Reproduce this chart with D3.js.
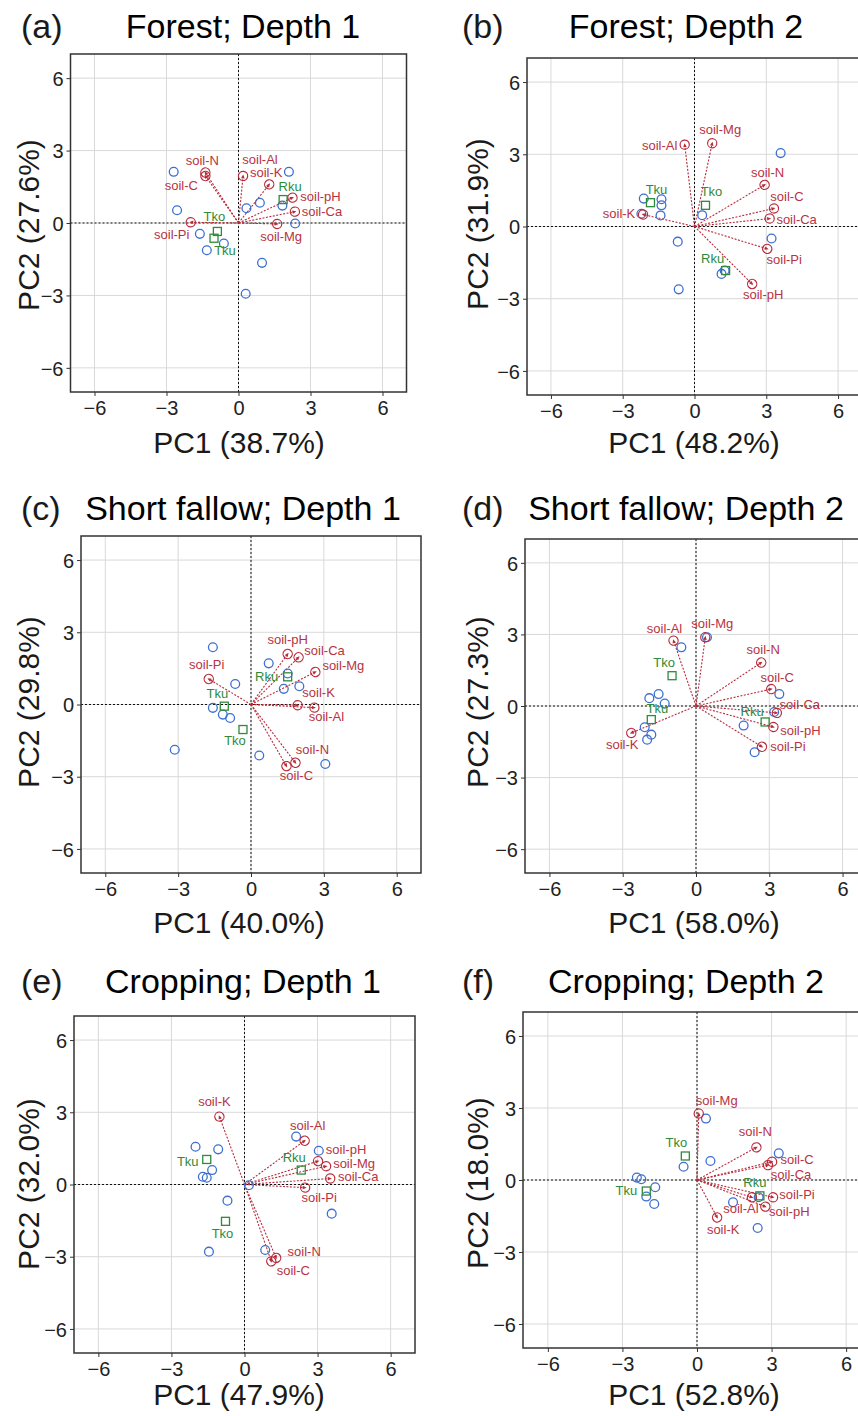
<!DOCTYPE html>
<html>
<head>
<meta charset="utf-8">
<script src="https://cdnjs.cloudflare.com/ajax/libs/d3/7.8.5/d3.min.js"></script>
<style>
  body { margin: 0; background: #fff; }
  svg { display: block; }
</style>
</head>
<body>
<div id="chart"></div>
<script>
// ---- data ----
const varNames = ['soil-N', 'soil-C', 'soil-Al', 'soil-K', 'soil-pH', 'soil-Ca', 'soil-Mg', 'soil-Pi'];
const groupNames = ['Tko', 'Tku', 'Rku'];
const tickValues = [-6, -3, 0, 3, 6];
const panelTags = ['(a)', '(b)', '(c)', '(d)', '(e)', '(f)'];
const panelTitles = ['Forest; Depth 1', 'Forest; Depth 2', 'Short fallow; Depth 1',
  'Short fallow; Depth 2', 'Cropping; Depth 1', 'Cropping; Depth 2'];
const pc1Share = ['38.7%', '48.2%', '40.0%', '58.0%', '47.9%', '52.8%'];
const pc2Share = ['27.6%', '31.9%', '29.8%', '27.3%', '32.0%', '18.0%'];

// sample scores (blue circles)
const samplesA = [[-2.70, 2.12], [2.10, 2.12], [-2.56, 0.53], [0.33, 0.61], [0.89, 0.84], [1.83, 0.72],
  [2.36, -0.02], [-1.61, -0.45], [-0.61, -0.85], [-1.32, -1.13], [0.98, -1.65], [0.30, -2.93]];
const samplesB = [[3.60, 3.05], [-2.12, 1.16], [-1.38, 1.13], [-1.38, 0.88], [-2.22, 0.53], [-1.42, 0.46],
  [0.32, 0.47], [3.22, -0.50], [-0.70, -0.63], [1.13, -1.97], [1.26, -1.83], [-0.66, -2.61]];
const samplesC = [[-1.57, 2.38], [0.73, 1.71], [-0.65, 0.85], [1.51, 1.29], [1.35, 0.65], [1.99, 0.76],
  [-1.57, -0.14], [-1.16, -0.42], [-0.86, -0.56], [-3.14, -1.88], [0.34, -2.12], [3.06, -2.47]];
const samplesD = [[0.45, 2.88], [-0.60, 2.46], [-1.91, 0.33], [-1.53, 0.50], [-1.28, 0.10], [-2.10, -0.89],
  [-1.83, -1.20], [-2.00, -1.41], [3.41, 0.50], [3.20, -0.25], [1.95, -0.82], [2.40, -1.94]];
const samplesE = [[-2.01, 1.57], [-1.08, 1.46], [-1.33, 0.60], [-1.71, 0.32], [-1.55, 0.28], [2.12, 1.99],
  [3.05, 1.40], [0.18, -0.03], [-0.70, -0.67], [3.58, -1.21], [0.85, -2.72], [-1.46, -2.79]];
const samplesF = [[0.36, 2.56], [0.54, 0.79], [-0.54, 0.55], [3.29, 1.11], [-2.42, 0.10], [-2.24, 0.03],
  [-1.68, -0.30], [-2.04, -0.69], [-1.72, -1.00], [1.45, -0.93], [2.48, -0.72], [2.44, -2.00]];

// group centroids (green squares), order of groupNames
const groupsA = [[-0.88, -0.35], [-1.02, -0.63], [1.86, 0.97]];
const groupsB = [[0.46, 0.88], [-1.84, 0.99], [1.30, -1.83]];
const groupsC = [[-0.33, -1.04], [-1.10, -0.07], [1.51, 1.15]];
const groupsD = [[-0.98, 1.27], [-1.83, -0.57], [2.83, -0.67]];
const groupsE = [[-0.78, -1.53], [-1.55, 1.04], [2.33, 0.60]];
const groupsF = [[-0.47, 1.00], [-2.04, -0.46], [2.53, -0.66]];

// variable loadings (red arrows), order of varNames
const loadingsA = [[-1.38, 2.09], [-1.38, 1.95], [0.19, 1.95], [1.28, 1.60], [2.25, 1.05], [2.35, 0.47], [1.61, -0.04], [-1.99, 0.03]];
const loadingsB = [[2.93, 1.73], [3.32, 0.75], [-0.41, 3.40], [-2.15, 0.50], [2.41, -2.39], [3.14, 0.33], [0.74, 3.46], [3.04, -0.93]];
const loadingsC = [[1.83, -2.42], [1.46, -2.56], [2.61, -0.13], [1.92, -0.03], [1.51, 2.10], [1.96, 1.96], [2.65, 1.35], [-1.74, 1.06]];
const loadingsD = [[2.67, 1.82], [3.08, 0.71], [-0.92, 2.74], [-2.65, -1.13], [3.17, -0.88], [3.31, -0.29], [0.38, 2.88], [2.70, -1.71]];
const loadingsE = [[1.30, -3.05], [1.10, -3.19], [2.47, 1.82], [-1.03, 2.82], [3.02, 0.97], [3.52, 0.25], [3.35, 0.76], [2.49, -0.13]];
const loadingsF = [[2.39, 1.36], [3.02, 0.76], [2.21, -0.72], [0.81, -1.56], [2.75, -1.11], [2.86, 0.62], [0.07, 2.77], [3.06, -0.72]];

const samples = [samplesA, samplesB, samplesC, samplesD, samplesE, samplesF];
const groups = [groupsA, groupsB, groupsC, groupsD, groupsE, groupsF];
const loadings = [loadingsA, loadingsB, loadingsC, loadingsD, loadingsE, loadingsF];

// ---- layout ----
const W = 858, H = 1416;
const boxes = [
  { left: 70.5, top: 54, w: 336, h: 338, tagX: 21, titleX: 243, titleY: 38, pc1X: 239, pc1Y: 453, pc2X: 28, pc2Y: 225 },
  { left: 527, top: 58, w: 335, h: 337, tagX: 462, titleX: 686, titleY: 38, pc1X: 694, pc1Y: 453, pc2X: 477, pc2Y: 224 },
  { left: 81, top: 536, w: 340, h: 337, tagX: 21, titleX: 243, titleY: 520, pc1X: 239, pc1Y: 933, pc2X: 28, pc2Y: 702 },
  { left: 525, top: 539, w: 342, h: 334, tagX: 462, titleX: 686, titleY: 520, pc1X: 694, pc1Y: 933, pc2X: 477, pc2Y: 702 },
  { left: 74, top: 1016, w: 341, h: 337, tagX: 21, titleX: 243, titleY: 993, pc1X: 239, pc1Y: 1405, pc2X: 28, pc2Y: 1184 },
  { left: 523, top: 1012, w: 348, h: 336, tagX: 462, titleX: 686, titleY: 993, pc1X: 694, pc1Y: 1405, pc2X: 477, pc2Y: 1183 }
];

// label nudges in pixels [dx, dy] (text centre, baseline) relative to the mark
const varNudge = [
  [[-3, -8], [-24, 14], [17, -12], [-3, -7], [28, 3], [27, 4], [4, 17], [-19, 17]],
  [[3, -8], [13, -7], [-25, 5], [-24, 4], [11, 15], [27, 5], [8, -9], [17, 15]],
  [[17, -9], [10, 14], [12, 13], [21, -8], [0, -10], [26, -2], [28, -2], [-2, -10]],
  [[2, -9], [6, -7], [-9, -8], [-9, 16], [27, 8], [23, -4], [7, -9], [26, 4]],
  [[28, -2], [22, 14], [3, -11], [-5, -11], [28, -7], [28, 3], [28, 2], [14, 14]],
  [[-1, -11], [25, 2], [-11, 16], [6, 17], [24, 9], [23, 14], [18, -9], [24, 2]]
];
const groupNudge = [
  [[-3, -10], [11, 17], [7, -9]],
  [[6, -9], [6, -9], [-13, -8]],
  [[-8, 15], [-7, -8], [-21, 4]],
  [[-8, -9], [6, -7], [-13, -6]],
  [[-3, 17], [-19, 7], [-7, -8]],
  [[-9, -9], [-20, 4], [-5, -9]]
];

const blue = '#3d6fd0', green = '#2e8b3a', red = '#b82a3a', redText = '#b8323f';
const font = "'Liberation Sans', Arial, sans-serif";

const svg = d3.select('#chart').append('svg')
  .attr('width', W)
  .attr('height', H)
  .style('font-family', font);

boxes.forEach((b, p) => {
  const x = d3.scaleLinear().domain([-7, 7]).range([b.left, b.left + b.w]);
  const y = d3.scaleLinear().domain([-7, 7]).range([b.top + b.h, b.top]);
  const g = svg.append('g');

  // titles
  g.append('text').text(panelTags[p])
    .attr('x', b.tagX).attr('y', b.titleY)
    .attr('font-size', 34).attr('fill', '#1a1a1a');
  g.append('text').text(panelTitles[p])
    .attr('x', b.titleX).attr('y', b.titleY)
    .attr('text-anchor', 'middle')
    .attr('font-size', 34).attr('fill', '#000');

  // grid
  g.selectAll('.gx').data(tickValues).enter().append('line')
    .attr('x1', d => x(d)).attr('x2', d => x(d))
    .attr('y1', b.top).attr('y2', b.top + b.h)
    .attr('stroke', '#d9d9d9').attr('stroke-width', 1);
  g.selectAll('.gy').data(tickValues).enter().append('line')
    .attr('y1', d => y(d)).attr('y2', d => y(d))
    .attr('x1', b.left).attr('x2', b.left + b.w)
    .attr('stroke', '#d9d9d9').attr('stroke-width', 1);

  // axes (ticks + labels)
  const xAxis = d3.axisBottom(x).tickValues(tickValues).tickSize(4).tickPadding(4);
  const yAxis = d3.axisLeft(y).tickValues(tickValues).tickSize(4).tickPadding(3);
  const gx = g.append('g').attr('transform', `translate(0,${b.top + b.h})`).call(xAxis);
  const gy = g.append('g').attr('transform', `translate(${b.left},0)`).call(yAxis);
  [gx, gy].forEach(a => {
    a.select('.domain').remove();
    a.selectAll('line').attr('stroke', '#333');
    a.selectAll('text').attr('font-size', 20).attr('font-family', font).attr('fill', '#222');
  });
  gx.selectAll('text').attr('dy', '0.75em');
  gy.selectAll('text').attr('dy', '0.36em');

  // zero lines
  g.append('line')
    .attr('x1', x(0)).attr('x2', x(0)).attr('y1', b.top).attr('y2', b.top + b.h)
    .attr('stroke', '#111').attr('stroke-dasharray', '2,2').attr('stroke-width', 1);
  g.append('line')
    .attr('y1', y(0)).attr('y2', y(0)).attr('x1', b.left).attr('x2', b.left + b.w)
    .attr('stroke', '#111').attr('stroke-dasharray', '2,2').attr('stroke-width', 1);

  // loading lines
  g.selectAll('.ld').data(loadings[p]).enter().append('line')
    .attr('x1', x(0)).attr('y1', y(0))
    .attr('x2', d => x(d[0])).attr('y2', d => y(d[1]))
    .attr('stroke', red).attr('stroke-width', 1.1).attr('stroke-dasharray', '2,1.5');

  // samples
  g.selectAll('.sm').data(samples[p]).enter().append('circle')
    .attr('cx', d => x(d[0])).attr('cy', d => y(d[1])).attr('r', 4.4)
    .attr('fill', 'none').attr('stroke', blue).attr('stroke-width', 1.3);

  // group centroids
  g.selectAll('.gr').data(groups[p]).enter().append('rect')
    .attr('x', d => x(d[0]) - 4).attr('y', d => y(d[1]) - 4)
    .attr('width', 8).attr('height', 8)
    .attr('fill', 'none').attr('stroke', green).attr('stroke-width', 1.3);

  // loading end markers: circle + arrow head
  const ends = g.selectAll('.le').data(loadings[p]).enter().append('g')
    .attr('transform', d => {
      const ang = Math.atan2(y(d[1]) - y(0), x(d[0]) - x(0)) * 180 / Math.PI;
      return `translate(${x(d[0])},${y(d[1])}) rotate(${ang})`;
    });
  ends.append('circle').attr('r', 4.6)
    .attr('fill', 'none').attr('stroke', red).attr('stroke-width', 1.2);
  ends.append('path').attr('d', 'M1.5,0 L-2.5,-1.8 L-2.5,1.8 Z').attr('fill', red);

  // labels
  g.selectAll('.vl').data(loadings[p]).enter().append('text')
    .text((d, i) => varNames[i])
    .attr('x', (d, i) => x(d[0]) + varNudge[p][i][0])
    .attr('y', (d, i) => y(d[1]) + varNudge[p][i][1])
    .attr('text-anchor', 'middle').attr('font-size', 13).attr('fill', redText);
  g.selectAll('.gl').data(groups[p]).enter().append('text')
    .text((d, i) => groupNames[i])
    .attr('x', (d, i) => x(d[0]) + groupNudge[p][i][0])
    .attr('y', (d, i) => y(d[1]) + groupNudge[p][i][1])
    .attr('text-anchor', 'middle').attr('font-size', 13).attr('fill', green);

  // border
  g.append('rect')
    .attr('x', b.left).attr('y', b.top).attr('width', b.w).attr('height', b.h)
    .attr('fill', 'none').attr('stroke', '#333').attr('stroke-width', 1.5);

  // axis titles
  g.append('text').text(`PC1 (${pc1Share[p]})`)
    .attr('x', b.pc1X).attr('y', b.pc1Y)
    .attr('text-anchor', 'middle').attr('font-size', 30).attr('fill', '#1a1a1a');
  g.append('text').text(`PC2 (${pc2Share[p]})`)
    .attr('transform', `translate(${b.pc2X + 11},${b.pc2Y}) rotate(-90)`)
    .attr('text-anchor', 'middle').attr('font-size', 30).attr('fill', '#1a1a1a');
});
</script>
</body>
</html>
